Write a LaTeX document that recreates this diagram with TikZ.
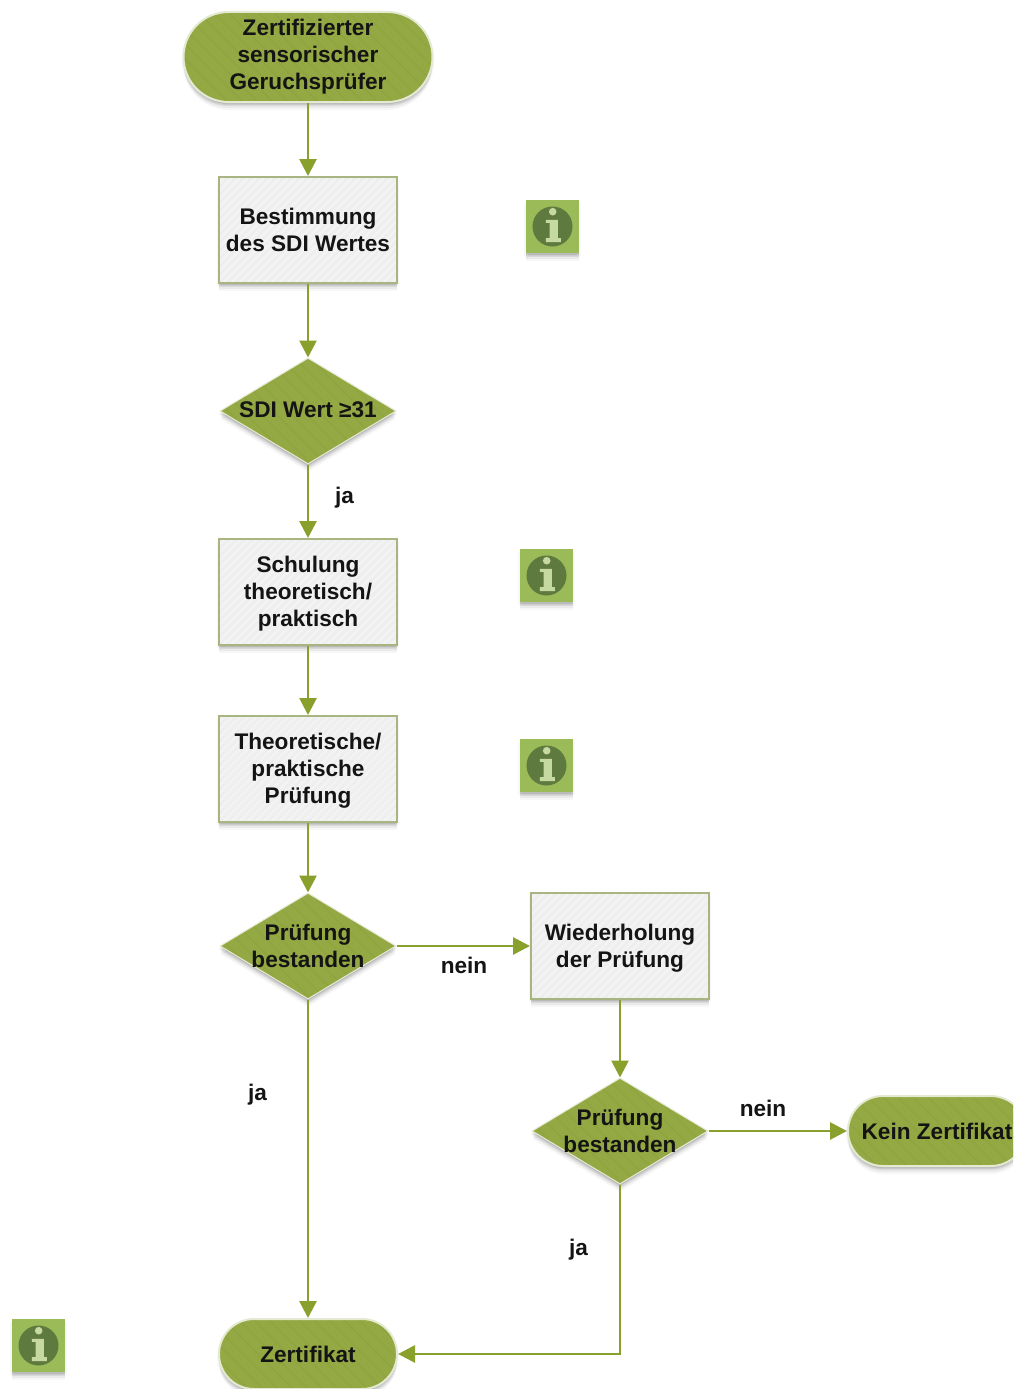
\documentclass[tikz,border=0pt]{standalone}
\usepackage{fontspec}
\setmainfont{Liberation Sans}
\usetikzlibrary{arrows.meta,shapes.geometric,shapes.misc,shadows,calc}
\definecolor{olive}{HTML}{94A843}
\definecolor{oliveline}{HTML}{89A02C}
\definecolor{oliveedge}{HTML}{E4E9D2}
\definecolor{oliveband}{HTML}{8FA33F}
\definecolor{boxfill}{HTML}{EEEEEE}
\definecolor{boxband}{HTML}{F3F3F3}
\definecolor{boxedge}{HTML}{A9B580}
\definecolor{iconfill}{HTML}{9BBB59}
\definecolor{icondisc}{HTML}{5F7A3E}
\definecolor{iconglyph}{HTML}{C6D9A0}
\newcommand{\zerobox}[2][-15.5pt]{\raisebox{#1}{\makebox[0pt]{\smash{\begin{tabular}{@{}c@{}}#2\end{tabular}}}}}
\tikzset{
  softshadow/.style={
    general shadow={shadow xshift=-2pt,shadow yshift=-3pt,fill=black,opacity=.03},
    general shadow={shadow xshift=2pt,shadow yshift=-3pt,fill=black,opacity=.03},
    general shadow={shadow yshift=-8pt,fill=black,opacity=.03},
    general shadow={shadow yshift=-6pt,fill=black,opacity=.05},
    general shadow={shadow yshift=-4pt,fill=black,opacity=.07},
    general shadow={shadow yshift=-2pt,fill=black,opacity=.09}},
  stripesdown/.style={path picture={
    \foreach \k in {-320,-305,...,320}
      \draw[#1,line width=1.2pt] ([shift={(\k-120,-120)}]path picture bounding box.center) -- ([shift={(\k+120,120)}]path picture bounding box.center);}},
  stripesup/.style={path picture={
    \foreach \k in {-320,-312,...,320}
      \draw[#1,line width=2.5pt] ([shift={(\k-120,120)}]path picture bounding box.center) -- ([shift={(\k+120,-120)}]path picture bounding box.center);}},
  label text/.style={font=\bfseries\fontsize{22.6}{27}\selectfont,text=black!92},
  stepbox/.style={rectangle,draw=boxedge,line width=2pt,fill=boxfill,stripesup=boxband,
    minimum width=178pt,minimum height=106pt,inner sep=0pt,softshadow,label text},
  terminal/.style={rounded rectangle,draw=oliveedge,line width=2pt,fill=olive,stripesdown=oliveband,
    inner sep=0pt,softshadow,label text},
  decision/.style={diamond,draw=oliveedge,line width=1pt,fill=olive,stripesdown=oliveband,
    minimum width=176pt,minimum height=106pt,inner sep=0pt,softshadow,label text},
  flow/.style={draw=oliveline,line width=2.8pt,-{Triangle[length=17pt,width=17pt]}},
  edgetext/.style={label text,inner sep=0pt},
  icon/.style={rectangle,fill=iconfill,minimum size=53pt,inner sep=0pt,softshadow,
    path picture={
      \coordinate (ic) at (path picture bounding box.center);
      \fill[icondisc] (ic) circle (20pt);
      \fill[iconglyph] ([shift={(0.2,-14.8)}]ic) circle (3.8pt);
      \fill[iconglyph] ([shift={(-6.6,-6.7)}]ic) -- ([shift={(5.4,-6.7)}]ic) -- ([shift={(5.4,11.7)}]ic)
        -- ([shift={(8.4,11.7)}]ic) -- ([shift={(8.4,15.7)}]ic) -- ([shift={(-6.6,15.7)}]ic)
        -- ([shift={(-6.6,11.7)}]ic) -- ([shift={(-3,11.7)}]ic) -- ([shift={(-3,-3.7)}]ic) -- ([shift={(-6.6,-3.7)}]ic) -- cycle;
    }},
}
\begin{document}
\begin{tikzpicture}[x=1pt,y=-1pt]
\useasboundingbox (0,0) rectangle (1013,1389);
\clip (0,0) rectangle (1013,1389);
\node[terminal,minimum width=249pt,minimum height=90pt] (start) at (308,57) {\zerobox[-11.5pt]{Zertifizierter\\sensorischer\\Geruchsprüfer}};
\node[stepbox] (sdi) at (308,230) {\zerobox{Bestimmung\\des SDI Wertes}};
\node[decision] (dsdi) at (308,411) {\zerobox[-12pt]{SDI Wert ≥31}};
\node[stepbox] (train) at (308,592) {\zerobox{Schulung\\theoretisch/\\praktisch}};
\node[stepbox] (exam) at (308,769) {\zerobox{Theoretische/\\praktische\\Prüfung}};
\node[decision] (dexam) at (308,946) {\zerobox{Prüfung\\bestanden}};
\node[stepbox] (retry) at (620,946) {\zerobox{Wiederholung\\der Prüfung}};
\node[decision] (dretry) at (620,1131) {\zerobox{Prüfung\\bestanden}};
\node[terminal,minimum width=178pt,minimum height=70pt] (none) at (937,1131) {Kein Zertifikat};
\node[terminal,minimum width=178pt,minimum height=70pt] (cert) at (308,1354) {Zertifikat};
\node[icon] (info1) at (552.5,226.5) {};
\node[icon] (info2) at (546.5,575.5) {};
\node[icon] (info3) at (546.5,765.5) {};
\node[icon] (info4) at (38.5,1345.5) {};
\draw[flow] (start) -- (sdi);
\draw[flow] (sdi) -- (dsdi);
\draw[flow] (dsdi) -- (train);
\draw[flow] (train) -- (exam);
\draw[flow] (exam) -- (dexam);
\draw[flow] (dexam) -- (retry);
\draw[flow] (retry) -- (dretry);
\draw[flow] (dretry) -- (none);
\draw[flow] (dexam) -- (cert);
\draw[flow] (dretry.south) |- (cert.east);
\node[edgetext] (lja1) at (344.5,498) {ja};
\node[edgetext] (lnein1) at (464,965) {nein};
\node[edgetext] (lja2) at (257.5,1095) {ja};
\node[edgetext] (lnein2) at (763,1108) {nein};
\node[edgetext] (lja3) at (578.5,1250) {ja};
\end{tikzpicture}
\end{document}
